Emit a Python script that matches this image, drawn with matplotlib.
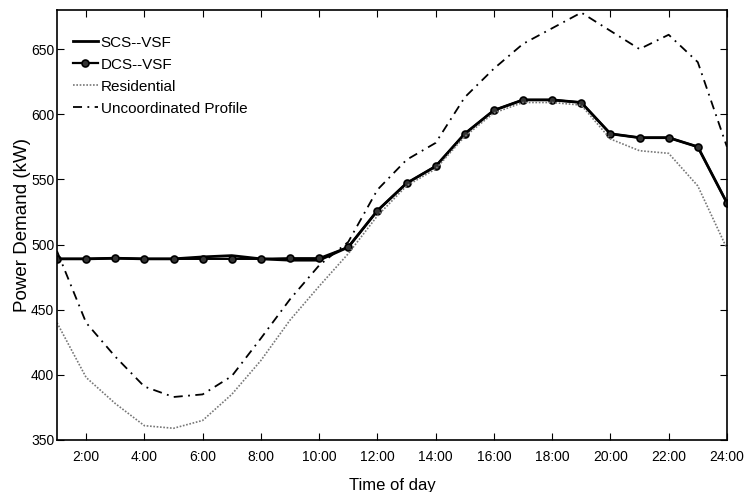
import matplotlib
matplotlib.use("Agg")
import matplotlib.pyplot as plt

plt.rcParams['font.family'] = ['Liberation Sans', 'DejaVu Sans']

hours = list(range(1, 25))
scs = [489, 489, 489.5, 489, 489, 490.5, 491.5, 489, 488, 488, 498, 526, 547, 560, 585, 603, 611, 611, 609, 585, 582, 582, 575, 532]
dcs = [489, 489, 489.5, 489, 489, 489, 489, 489, 489.5, 489.5, 498, 526, 547, 560, 585, 603, 611, 611, 609, 585, 582, 582, 575, 532]
residential = [440, 398, 378, 361, 359, 365, 385, 411, 442, 468, 493, 522, 545, 558, 583, 601, 609, 609, 607, 581, 572, 570, 545, 497]
uncoord = [495, 440, 414, 391, 383, 385, 399, 428, 458, 484, 502, 542, 565, 578, 613, 635, 654, 666, 678, 664, 650, 661, 640, 575]
xtick_vals = list(range(2, 25, 2))
xtick_labels = [f"{h}:00" for h in xtick_vals]
yticks = [350, 400, 450, 500, 550, 600, 650]

fig = plt.figure(figsize=(7.46, 4.92), dpi=100)
ax = fig.add_axes([0.0764, 0.1057, 0.898, 0.874])

ax.plot(hours, scs, color='black', lw=2.0, label='SCS--VSF')
ax.plot(hours, dcs, color='black', lw=1.6, marker='o', ms=5, mfc='#333333', mec='black', mew=1.2, label='DCS--VSF')
ax.plot(hours, residential, color='#777777', lw=1.2, ls=(0, (1, 1)), label='Residential')
ax.plot(hours, uncoord, color='black', lw=1.3, ls=(0, (5, 3, 1, 3)), label='Uncoordinated Profile')

ax.set_xlim(1, 24)
ax.set_ylim(350, 680)
ax.set_xticks(xtick_vals)
ax.set_xticklabels(xtick_labels)
ax.set_yticks(yticks)
ax.tick_params(direction='in', top=True, right=True, labelsize=10, length=5)
ax.tick_params(axis='x', pad=7)
ax.tick_params(axis='y', pad=2)
for s in ax.spines.values():
    s.set_linewidth(1.2)
ax.set_xlabel('Time of day', fontsize=12, labelpad=10)
ax.set_ylabel('Power Demand (kW)', fontsize=13.5, labelpad=0)

leg = ax.legend(loc='upper left', frameon=False, fontsize=11, handlelength=1.6,
                handletextpad=0.2, labelspacing=0.52, bbox_to_anchor=(0.024, 0.94),
                borderaxespad=0, borderpad=0)

fig.savefig('out.png', dpi=100)
